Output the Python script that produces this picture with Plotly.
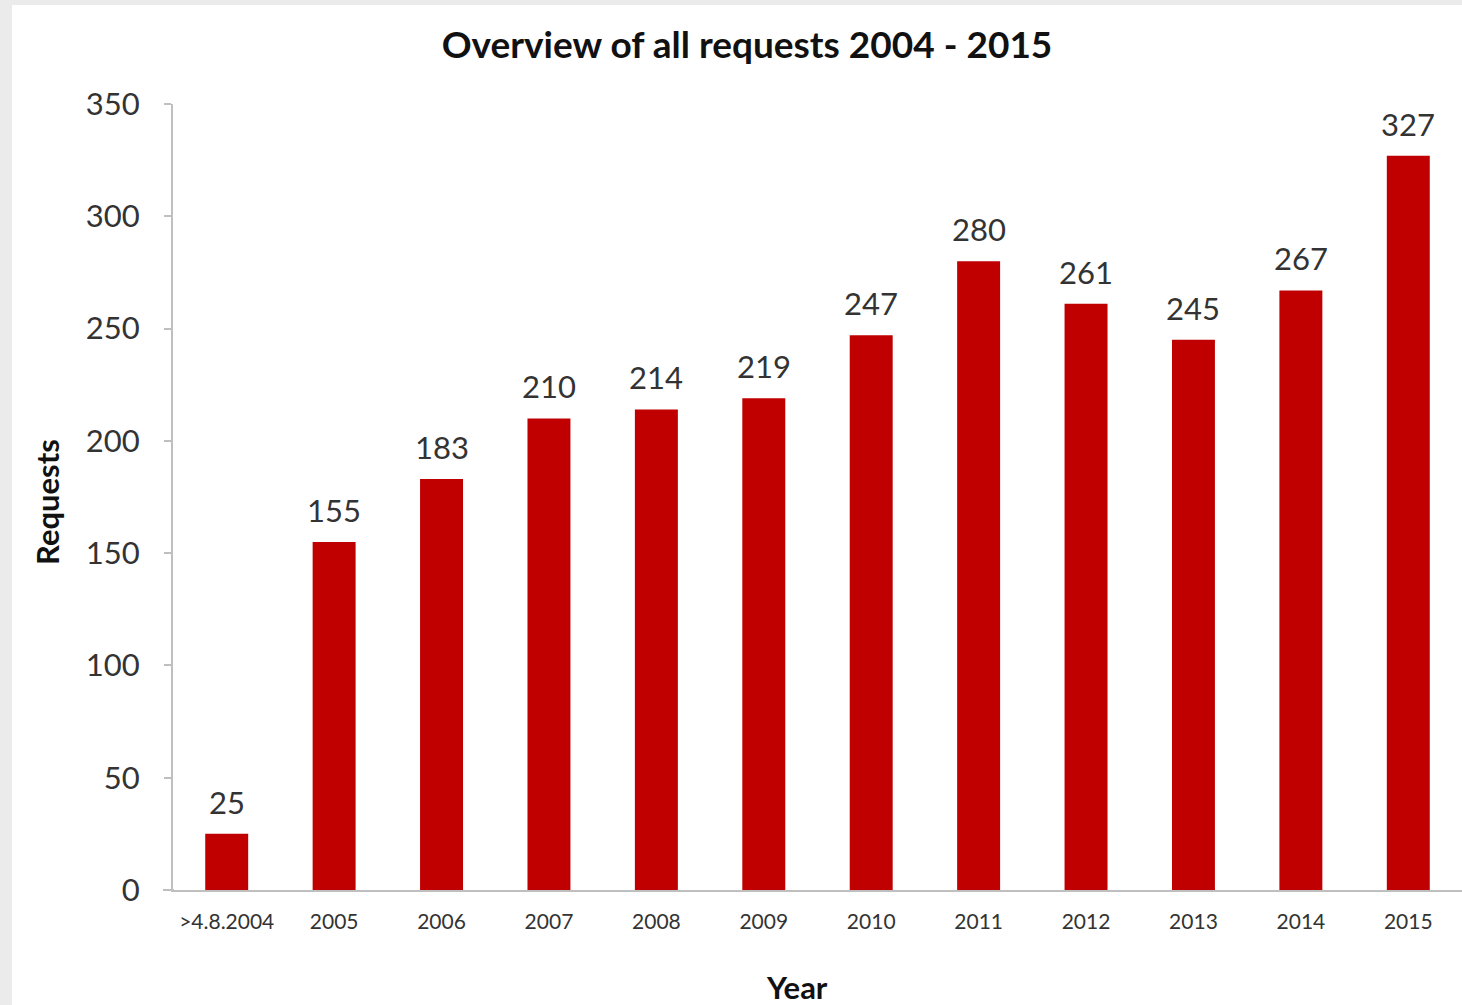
import plotly.graph_objects as go

categories = [">4.8.2004", "2005", "2006", "2007", "2008", "2009", "2010",
              "2011", "2012", "2013", "2014", "2015"]
requests = [25, 155, 183, 210, 214, 219, 247, 280, 261, 245, 267, 327]
y_ticks = [0, 50, 100, 150, 200, 250, 300, 350]

FONT = "Lato"
W, H = 1462, 1005
ML, MR, MT, MB = 173, 0, 104, 115
pw = W - ML - MR
ph = H - MT - MB

def px_x(p):
    return (p - ML) / pw

def px_y(p):
    return (H - MB - p) / ph

fig = go.Figure()
fig.add_trace(go.Bar(
    x=categories, y=requests,
    marker=dict(color="#C00000", line=dict(width=0)),
    width=0.4,
    hoverinfo="x+y",
))

annotations = []
for i, v in enumerate(requests):
    annotations.append(dict(
        x=i, y=v, xref="x", yref="y", text=str(v), showarrow=False,
        yanchor="bottom", yshift=11,
        font=dict(family=FONT, size=31, color="#333333"),
    ))

annotations.append(dict(
    x=px_x(47), y=px_y(502), xref="paper", yref="paper", text="<b>Requests</b>",
    textangle=-90, showarrow=False, xanchor="center", yanchor="middle",
    font=dict(family=FONT, size=31, color="#111111"),
))
annotations.append(dict(
    x=px_x(797), y=px_y(987), xref="paper", yref="paper", text="<b>Year</b>",
    showarrow=False, xanchor="center", yanchor="middle",
    font=dict(family=FONT, size=31, color="#111111"),
))

shapes = [
    dict(type="rect", xref="paper", yref="paper", layer="below",
         x0=px_x(0), x1=px_x(12), y0=px_y(H), y1=px_y(0),
         fillcolor="#ebebeb", line=dict(width=0)),
    dict(type="rect", xref="paper", yref="paper", layer="below",
         x0=px_x(0), x1=px_x(W), y0=px_y(5), y1=px_y(0),
         fillcolor="#ebebeb", line=dict(width=0)),
    dict(type="line", xref="paper", yref="paper", layer="above",
         x0=px_x(163), x1=px_x(174), y0=0, y1=0,
         line=dict(color="#bfbfbf", width=2)),
]

fig.update_layout(
    width=W, height=H,
    margin=dict(l=ML, r=MR, t=MT, b=MB),
    paper_bgcolor="white", plot_bgcolor="white",
    showlegend=False,
    title=dict(text="<b>Overview of all requests 2004 - 2015</b>",
               x=747 / W, xanchor="center", y=1 - 45 / H, yanchor="middle",
               font=dict(family=FONT, size=37, color="#111111")),
    annotations=annotations,
    shapes=shapes,
)
fig.update_xaxes(
    type="category", range=[-0.5, len(categories) - 0.5],
    showgrid=False, showline=True, linecolor="#bfbfbf",
    linewidth=2, ticks="", ticklabelstandoff=12,
    tickfont=dict(family=FONT, size=21, color="#333333"),
)
fig.update_yaxes(
    range=[0, 350], tickvals=y_ticks, showgrid=False, showline=True,
    linecolor="#bfbfbf", linewidth=2, ticks="outside", ticklen=7,
    tickcolor="#bfbfbf", tickwidth=2, ticklabelstandoff=18, zeroline=False,
    tickfont=dict(family=FONT, size=31, color="#333333"),
)

fig.write_html("out.html")
